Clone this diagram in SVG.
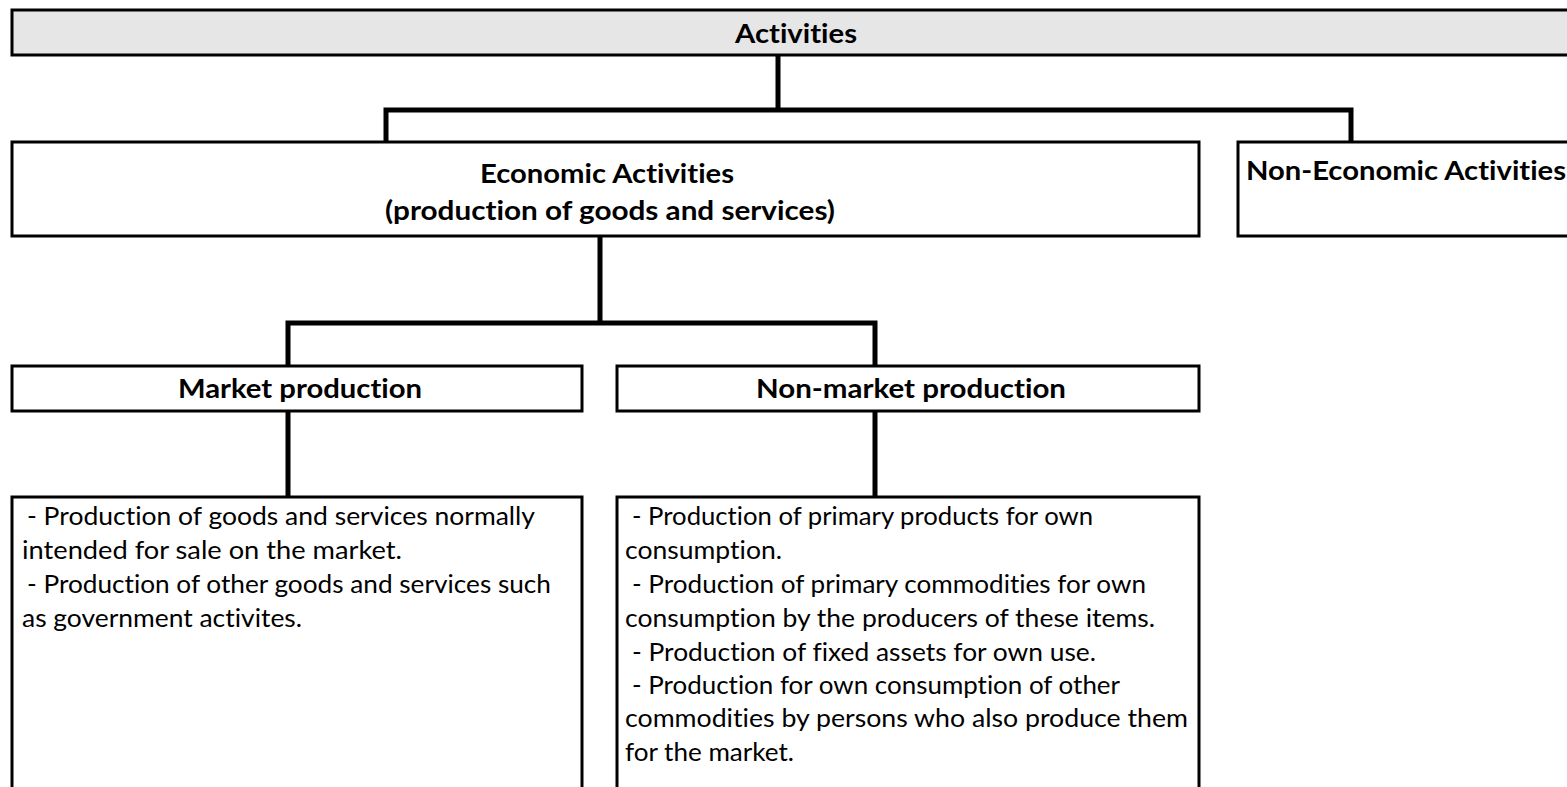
<svg xmlns="http://www.w3.org/2000/svg" width="1567" height="787" viewBox="0 0 1567 787">
<style>
.box{fill:#ffffff;stroke:#000000;stroke-width:3}
.bar{fill:#e6e6e6;stroke:#000000;stroke-width:3}
.conn{fill:none;stroke:#000000;stroke-width:5;stroke-linejoin:miter}
.h{font-family:Lato,"Open Sans","Liberation Sans",sans-serif;font-weight:bold;font-size:26px;fill:#000000;font-variant-ligatures:none}
.t{font-family:Lato,"Open Sans","Liberation Sans",sans-serif;font-size:25px;fill:#000000;font-variant-ligatures:none}
</style>
<rect x="0" y="0" width="1567" height="787" fill="#ffffff"/>
<g id="connectors">
<path class="conn" d="M778,55 V110 M386,142 V110 H1351 V142"/>
<path class="conn" d="M600,236 V323 M288,366 V323 H875 V366"/>
<path class="conn" d="M288,411 V497"/>
<path class="conn" d="M875,411 V497"/>
</g>
<g id="activities">
<rect class="bar" x="12" y="10" width="1570" height="45"/>
<text class="h" x="735" y="43" textLength="122" lengthAdjust="spacingAndGlyphs">Activities</text>
</g>
<g id="economic">
<rect class="box" x="12" y="142" width="1187" height="94"/>
<text class="h" x="480" y="183" textLength="254" lengthAdjust="spacingAndGlyphs">Economic Activities</text>
<text class="h" x="385" y="220" textLength="450" lengthAdjust="spacingAndGlyphs">(production of goods and services)</text>
</g>
<g id="non-economic">
<rect class="box" x="1238" y="142" width="340" height="94"/>
<text class="h" x="1246" y="180" textLength="320" lengthAdjust="spacingAndGlyphs">Non-Economic Activities</text>
</g>
<g id="market">
<rect class="box" x="12" y="366" width="570" height="45"/>
<text class="h" x="178" y="398" textLength="244" lengthAdjust="spacingAndGlyphs">Market production</text>
</g>
<g id="non-market">
<rect class="box" x="617" y="366" width="582" height="45"/>
<text class="h" x="756" y="398" textLength="310" lengthAdjust="spacingAndGlyphs">Non-market production</text>
</g>
<g id="market-detail">
<rect class="box" x="12" y="497" width="570" height="292"/>
<text class="t" x="27" y="525" textLength="508" lengthAdjust="spacingAndGlyphs">- Production of goods and services normally</text>
<text class="t" x="22" y="559" textLength="380" lengthAdjust="spacingAndGlyphs">intended for sale on the market.</text>
<text class="t" x="27" y="593" textLength="524" lengthAdjust="spacingAndGlyphs">- Production of other goods and services such</text>
<text class="t" x="22" y="627" textLength="280" lengthAdjust="spacingAndGlyphs">as government activites.</text>
</g>
<g id="non-market-detail">
<rect class="box" x="617" y="497" width="582" height="292"/>
<text class="t" x="632" y="525" textLength="461" lengthAdjust="spacingAndGlyphs">- Production of primary products for own</text>
<text class="t" x="625" y="559" textLength="157" lengthAdjust="spacingAndGlyphs">consumption.</text>
<text class="t" x="632" y="593" textLength="514" lengthAdjust="spacingAndGlyphs">- Production of primary commodities for own</text>
<text class="t" x="625" y="627" textLength="530" lengthAdjust="spacingAndGlyphs">consumption by the producers of these items.</text>
<text class="t" x="632" y="661" textLength="464" lengthAdjust="spacingAndGlyphs">- Production of fixed assets for own use.</text>
<text class="t" x="632" y="694" textLength="488" lengthAdjust="spacingAndGlyphs">- Production for own consumption of other</text>
<text class="t" x="625" y="727" textLength="563" lengthAdjust="spacingAndGlyphs">commodities by persons who also produce them</text>
<text class="t" x="625" y="761" textLength="169" lengthAdjust="spacingAndGlyphs">for the market.</text>
</g>
</svg>
